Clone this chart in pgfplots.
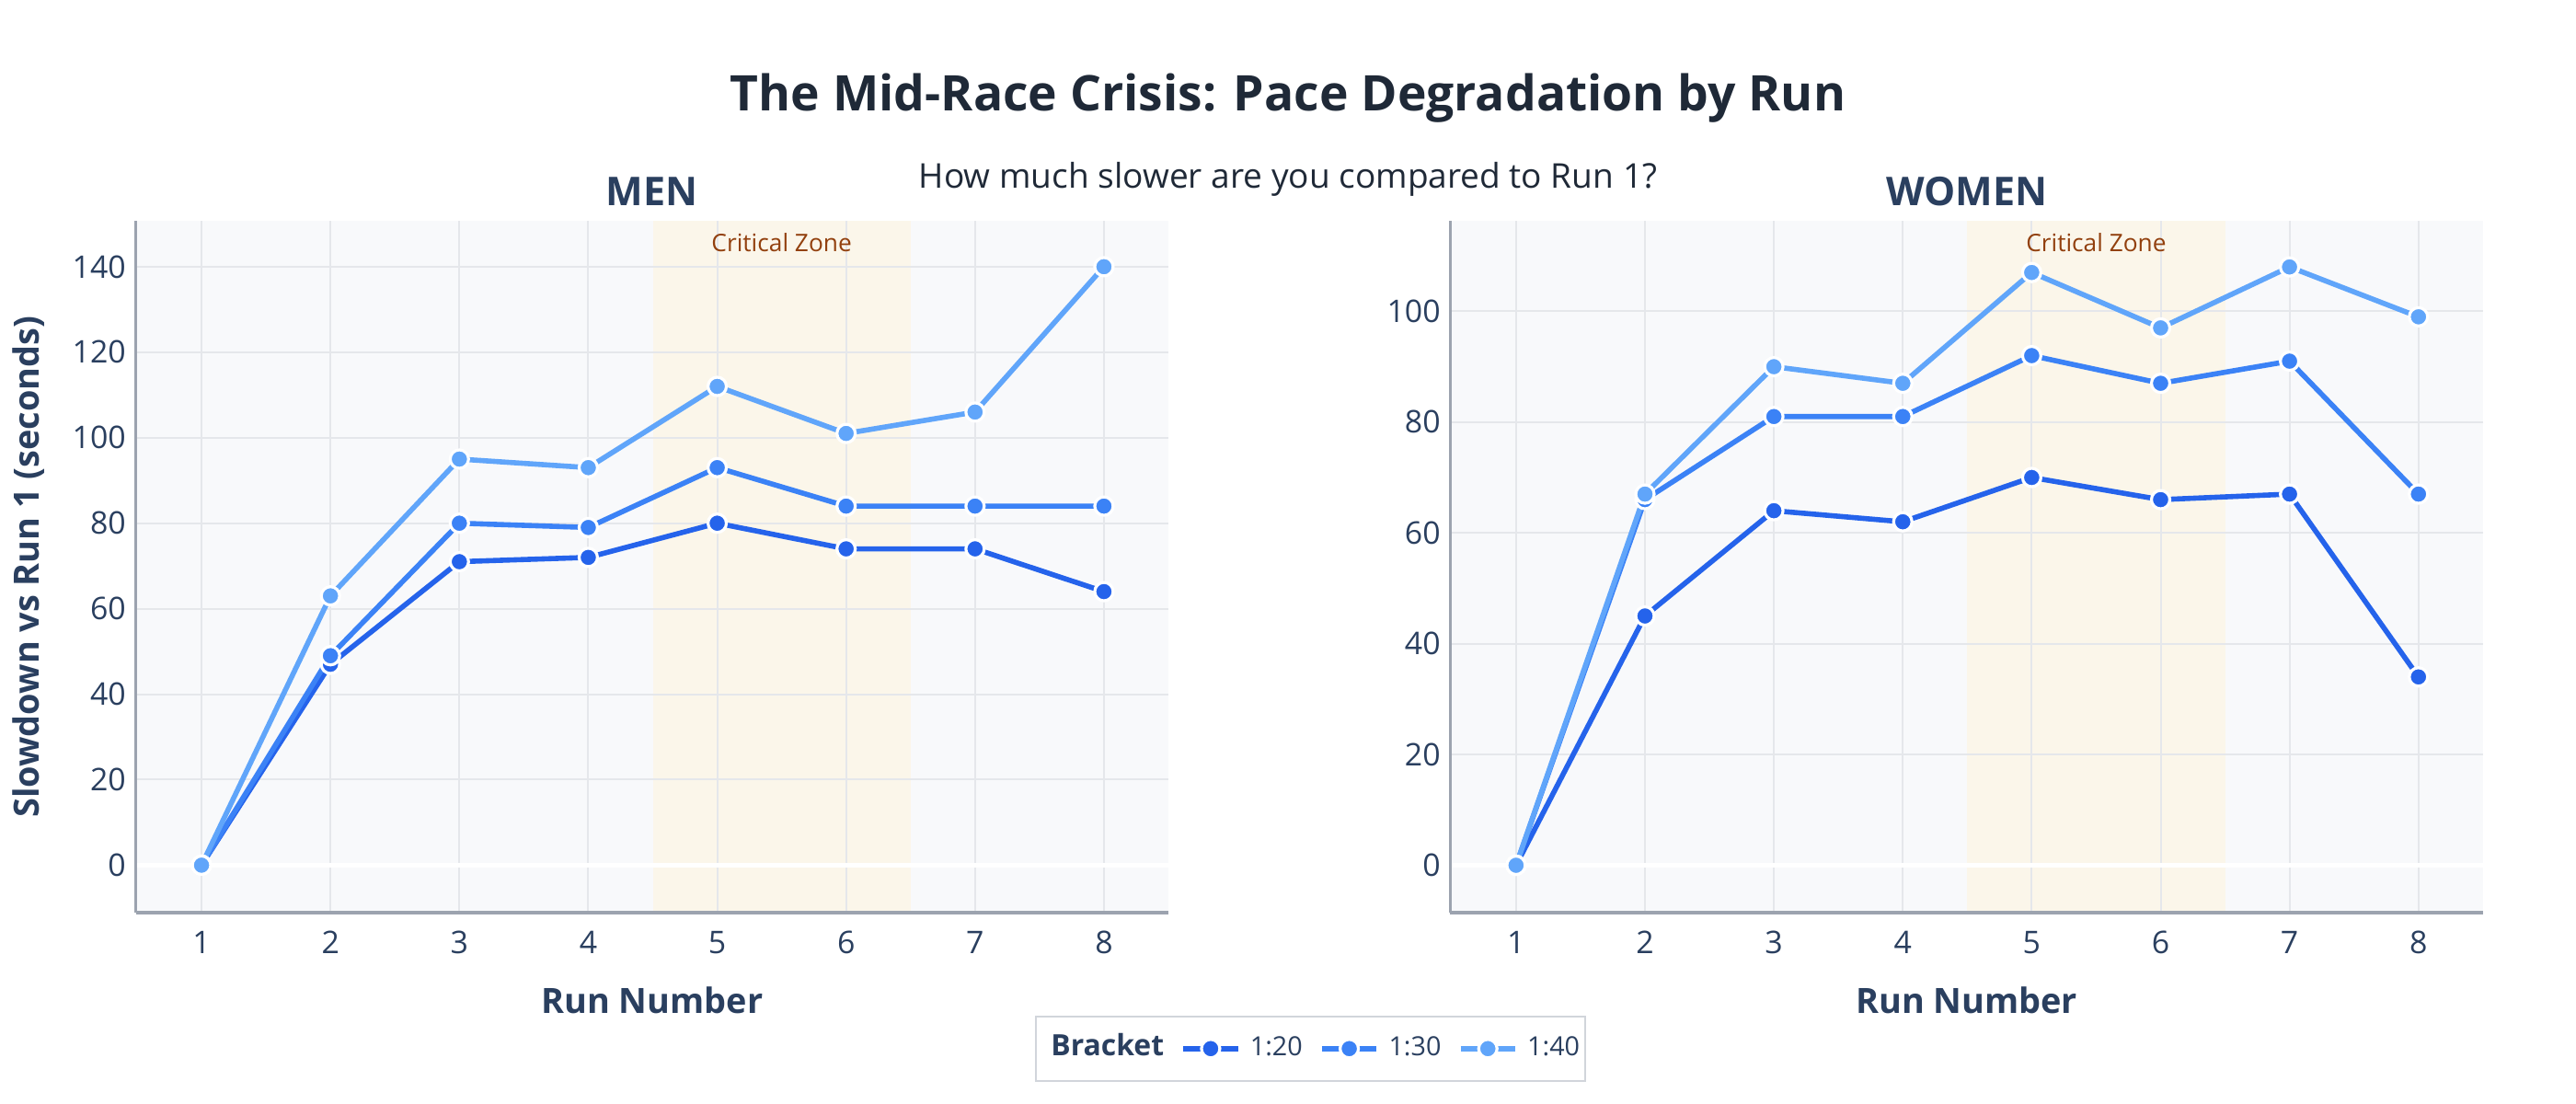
\documentclass[border=0pt]{standalone}
\usepackage{pgfplots}
\pgfplotsset{compat=1.18}
\usepackage{pgfplotstable}
\usepackage{fontspec}
\setmainfont{Open Sans}
\definecolor{cA}{HTML}{2563EB}
\definecolor{cB}{HTML}{3B82F6}
\definecolor{cC}{HTML}{60A5FA}
\definecolor{navy}{HTML}{2A3F5F}
\definecolor{titlec}{HTML}{1F2937}
\definecolor{gridc}{HTML}{E5E7EB}
\definecolor{axisc}{HTML}{9CA3AF}
\definecolor{plotbg}{HTML}{F8F9FB}
\definecolor{zonec}{HTML}{FBF6EA}
\definecolor{zonetext}{HTML}{92400E}
\definecolor{legbord}{HTML}{D1D5DB}

\pgfplotstableread{
run m20 m30 m40 w20 w30 w40
1 0 0 0 0 0 0
2 47 49 63 45 66 67
3 71 80 95 64 81 90
4 72 79 93 62 81 87
5 80 93 112 70 92 107
6 74 84 101 66 87 97
7 74 84 106 67 91 108
8 64 84 140 34 67 99
}\racedata

\pgfplotsset{
  panel/.style={
    scale only axis, width=280.6bp, height=187.95bp,
    xmin=0.49, xmax=8.5, xtick={1,...,8},
    set layers,
    axis lines*=left,
    axis line style={-, draw=axisc, line width=0.8bp},
    major tick length=0pt,
    grid=major,
    major grid style={draw=gridc, line width=0.5bp},
    /pgf/number format/assume math mode=true,
    tick label style={font=\fontsize{8.5}{10}\selectfont, text=navy},
    xticklabel style={anchor=base, yshift=-11.2bp, inner sep=0pt},
    yticklabel style={anchor=east, inner sep=0pt, xshift=-2.5bp},
    extra y ticks={0},
    extra y tick labels={},
    extra y tick style={grid=major, major grid style={draw=white, line width=1.2bp}},
    xlabel={Run Number},
    xlabel style={at={(axis description cs:0.5,-0.1458)}, anchor=base,
      font=\bfseries\fontsize{9.5}{11}\selectfont, text=navy},
  },
  series/.style={#1, line width=1.4bp, line join=round, mark=*, mark size=2.5bp,
    mark options={fill=#1, draw=white, line width=0.8bp, solid}},
}

\begin{document}
\begin{tikzpicture}
\path (0,0) rectangle (700bp,300bp);

\node[anchor=base, font=\bfseries\fontsize{13.4}{16}\selectfont, text=titlec] at (350bp,269.75bp) {The Mid-Race Crisis: Pace Degradation by Run};
\node[anchor=base, font=\fontsize{9.3}{11}\selectfont, text=titlec] at (350bp,248.75bp) {How much slower are you compared to Run 1?};
\node[anchor=base, font=\bfseries\fontsize{10.8}{13}\selectfont, text=navy] at (177.2bp,244.2bp) {MEN};
\node[anchor=base, font=\bfseries\fontsize{10.8}{13}\selectfont, text=navy] at (534.4bp,244.2bp) {WOMEN};

% MEN
\begin{axis}[panel, at={(36.9bp,52bp)}, anchor=south west,
  ymin=-11.1, ymax=150.7, ytick={0,20,...,140},
  ylabel={Slowdown vs Run 1 (seconds)},
  ylabel style={at={(axis description cs:-0.1034,0.5)}, anchor=center,
    font=\bfseries\fontsize{9.5}{11}\selectfont, text=navy},
  legend columns=4,
  legend style={at={(1.1377,-0.1966)}, anchor=center, draw=legbord, line width=0.6bp,
    fill=white, font=\fontsize{7.2}{9}\selectfont, text=navy,
    inner xsep=1.5bp, inner ysep=5.3bp,
    nodes={inner sep=0pt, text height=5.4bp, text depth=1.5bp},
    /tikz/every odd column/.append style={column sep=2.6bp},
    /tikz/every even column/.append style={column sep=4.6bp},
    /tikz/column 1/.append style={column sep=0pt}},
  legend image code/.code={\draw[mark repeat=2, mark phase=2] plot coordinates {(0bp,0bp) (7.4bp,0bp) (14.85bp,0bp)};},
]
\addplot[draw=none, fill=plotbg, forget plot, on layer=axis background] coordinates {(0.49,-11.1) (8.5,-11.1) (8.5,150.7) (0.49,150.7)} -- cycle;
\addplot[draw=none, fill=zonec, forget plot, on layer=axis background] coordinates {(4.5,-11.1) (6.5,-11.1) (6.5,150.7) (4.5,150.7)} -- cycle;
\node[anchor=base, font=\fontsize{6.6}{8}\selectfont, text=zonetext] at (axis cs:5.5,143.46) {Critical Zone};
\addlegendimage{empty legend}
\addlegendentry{\fontsize{8}{9}\selectfont\textbf{Bracket}}
\addplot[series=cA] table[x=run, y=m20] {\racedata};
\addlegendentry{1:20}
\addplot[series=cB] table[x=run, y=m30] {\racedata};
\addlegendentry{1:30}
\addplot[series=cC] table[x=run, y=m40] {\racedata};
\addlegendentry{1:40}
\end{axis}

% WOMEN
\begin{axis}[panel, at={(394.1bp,52bp)}, anchor=south west,
  ymin=-8.55, ymax=116.3, ytick={0,20,...,100},
]
\addplot[draw=none, fill=plotbg, forget plot, on layer=axis background] coordinates {(0.49,-8.55) (8.5,-8.55) (8.5,116.3) (0.49,116.3)} -- cycle;
\addplot[draw=none, fill=zonec, forget plot, on layer=axis background] coordinates {(4.5,-8.55) (6.5,-8.55) (6.5,116.3) (4.5,116.3)} -- cycle;
\node[anchor=base, font=\fontsize{6.6}{8}\selectfont, text=zonetext] at (axis cs:5.5,110.72) {Critical Zone};
\addplot[series=cA] table[x=run, y=w20] {\racedata};
\addplot[series=cB] table[x=run, y=w30] {\racedata};
\addplot[series=cC] table[x=run, y=w40] {\racedata};
\end{axis}
\end{tikzpicture}
\end{document}
